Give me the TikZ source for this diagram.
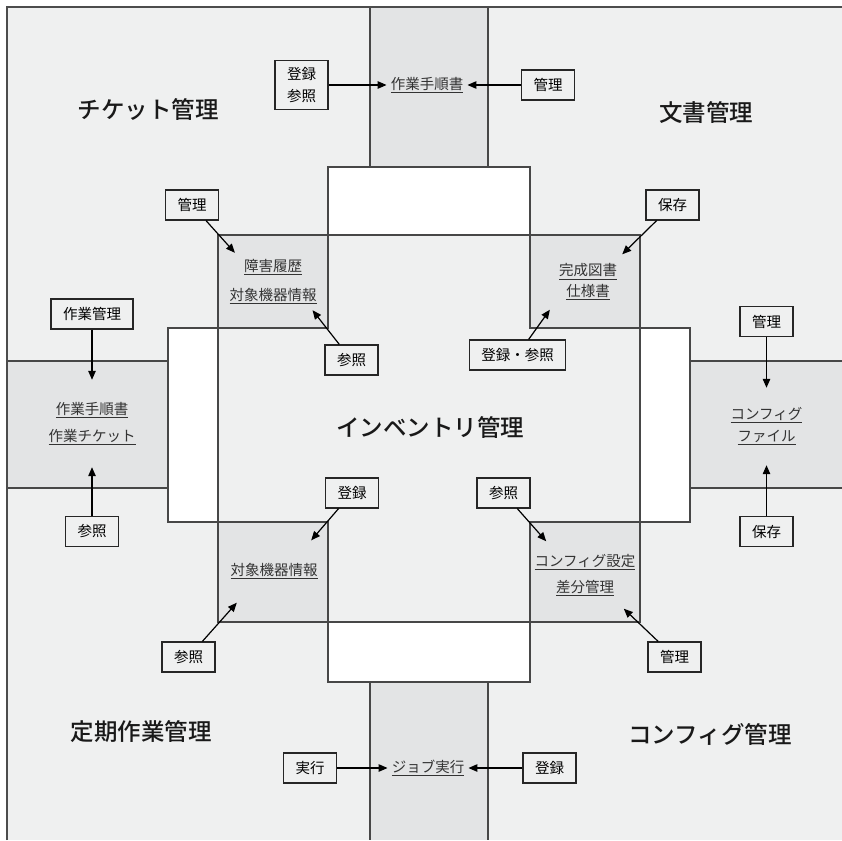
\documentclass[tikz,border=0pt]{standalone}
\usepackage{fontspec}
\setmainfont{Noto Sans CJK JP}
\newfontfamily\titlefont{Noto Sans CJK JP}[UprightFont=* Medium]
\usepackage{tikz}
\usetikzlibrary{shapes, arrows.meta, positioning}
\definecolor{areaColor}{HTML}{EFF0F0}
\definecolor{bandColor}{HTML}{E3E4E5}
\definecolor{lineColor}{HTML}{474747}
\newcommand{\dataul}[1]{\setbox0\hbox{#1}\leavevmode\vtop{\copy0\kern1.5pt\hrule height 1pt width \wd0}}
\tikzstyle{opbox} = [rectangle, 
draw=black!85, 
line width=1.2pt, 
minimum width=52pt, 
minimum height=30pt, 
inner xsep=12pt, 
inner ysep=7pt, 
align=center, 
font=\fontsize{14.5}{22}\selectfont]
\tikzstyle{datatext} = [rectangle, 
inner sep=0pt, 
align=center, 
text=black!80, 
font=\fontsize{14.5}{17}\selectfont]
\tikzstyle{areatitle} = [font=\titlefont\fontsize{23.5}{28}\selectfont, text=black!90]
\tikzstyle{partline} = [draw=lineColor, line width=1.3pt]
\tikzstyle{arrow} = [line width=1.2pt, -{Triangle[length=9pt,width=7.5pt]}]

\begin{document}
\begin{tikzpicture}[x=1pt,y=-1pt]
    \useasboundingbox (0,0) rectangle (842,840);
    % Areas
    \fill[areaColor] (7,7) rectangle (842,840);
    \fill[bandColor] (370,7) rectangle (488,167);
    \fill[bandColor] (7,361) rectangle (168,488);
    \fill[bandColor] (690,361) rectangle (842,488);
    \fill[bandColor] (370,682) rectangle (488,840);
    \draw[partline] (370,7) -- (370,167) (488,7) -- (488,167);
    \draw[partline] (7,361) -- (168,361) (7,488) -- (168,488);
    \draw[partline] (690,361) -- (842,361) (690,488) -- (842,488);
    \draw[partline] (370,682) -- (370,840) (488,682) -- (488,840);
    \fill[white] (328,167) rectangle (530,682);
    \fill[white] (168,328) rectangle (690,522);
    \fill[bandColor] (218,235) rectangle (640,622);
    \fill[areaColor] (328,235) rectangle (530,622);
    \fill[areaColor] (218,328) rectangle (640,522);
    \draw[partline] (218,235) rectangle (640,622);
    \draw[partline] (328,167) -- (530,167) -- (530,328) -- (690,328) -- (690,522)
        -- (530,522) -- (530,682) -- (328,682) -- (328,522) -- (168,522)
        -- (168,328) -- (328,328) -- cycle;
    \draw[line width=1.8pt, draw=black!70] (7,840) -- (7,7) -- (842,7);

    % Titles
    \node[areatitle] (ticket) at (148,110) {チケット管理};
    \node[areatitle] (bunsho) at (706,113) {文書管理};
    \node[areatitle] (inventory) at (430,428) {インベントリ管理};
    \node[areatitle] (teiki) at (141,732) {定期作業管理};
    \node[areatitle] (configmgmt) at (710,734) {コンフィグ管理};

    % Data
    \node[datatext, inner xsep=4pt] (tejun) at (427,85) {\dataul{作業手順書}};
    \node[datatext, minimum height=57pt] (shogai) at (273,281.5) {\dataul{障害履歴}\\[12pt]\dataul{対象機器情報}};
    \node[datatext, minimum width=76pt, minimum height=55pt] (kansei) at (588,282) {\dataul{完成図書}\\[4pt]\dataul{仕様書}};
    \node[datatext, minimum height=87pt] (sagyo) at (92,423.5) {\dataul{作業手順書}\\[10pt]\dataul{作業チケット}};
    \node[datatext, minimum height=77pt] (configfile) at (766.5,426.5) {\dataul{コンフィグ}\\[5pt]\dataul{ファイル}};
    \node[datatext, minimum height=62pt] (taisho) at (274,571.5) {\dataul{対象機器情報}};
    \node[datatext, minimum height=67pt] (sabun) at (585,575) {\dataul{コンフィグ設定}\\[9pt]\dataul{差分管理}};
    \node[datatext, inner xsep=4pt] (job) at (428,768) {\dataul{ジョブ実行}};

    % Operations
    \node[opbox] (tToroku) at (301.5,85) {登録\\参照};
    \node[opbox] (tKanri) at (548,85) {管理};
    \node[opbox] (tlKanri) at (192,205) {管理};
    \node[opbox] (tlSansho) at (351.5,360) {参照};
    \node[opbox] (trHozon) at (672.5,205) {保存};
    \node[opbox] (trToroku) at (517.5,355) {登録・参照};
    \node[opbox] (lSagyo) at (92,314) {作業管理};
    \node[opbox] (lSansho) at (92,531.5) {参照};
    \node[opbox] (rKanri) at (766.5,321.5) {管理};
    \node[opbox] (rHozon) at (766.5,531.5) {保存};
    \node[opbox] (blToroku) at (352,493) {登録};
    \node[opbox] (blSansho) at (188.5,657) {参照};
    \node[opbox] (brSansho) at (503.5,493) {参照};
    \node[opbox] (brKanri) at (674.5,657) {管理};
    \node[opbox] (bJikko) at (310,768) {実行};
    \node[opbox] (bToroku) at (549.5,768) {登録};

    % Arrows
    \draw[arrow] (tToroku) -- (tejun);
    \draw[arrow] (tKanri) -- (tejun);
    \draw[arrow] (tlKanri) -- (shogai.143);
    \draw[arrow] (tlSansho) -- (shogai.-36);
    \draw[arrow] (trHozon) -- (kansei.39);
    \draw[arrow] (trToroku) -- (kansei.216);
    \draw[arrow] (lSagyo) -- (sagyo);
    \draw[arrow] (lSansho) -- (sagyo);
    \draw[arrow] (rKanri) -- (configfile);
    \draw[arrow] (rHozon) -- (configfile);
    \draw[arrow] (blToroku) -- (taisho.40);
    \draw[arrow] (blSansho) -- (taisho.220);
    \draw[arrow] (brSansho) -- (sabun.139);
    \draw[arrow] (brKanri) -- (sabun.-41);
    \draw[arrow] (bJikko) -- (job);
    \draw[arrow] (bToroku) -- (job);
\end{tikzpicture}
\end{document}
